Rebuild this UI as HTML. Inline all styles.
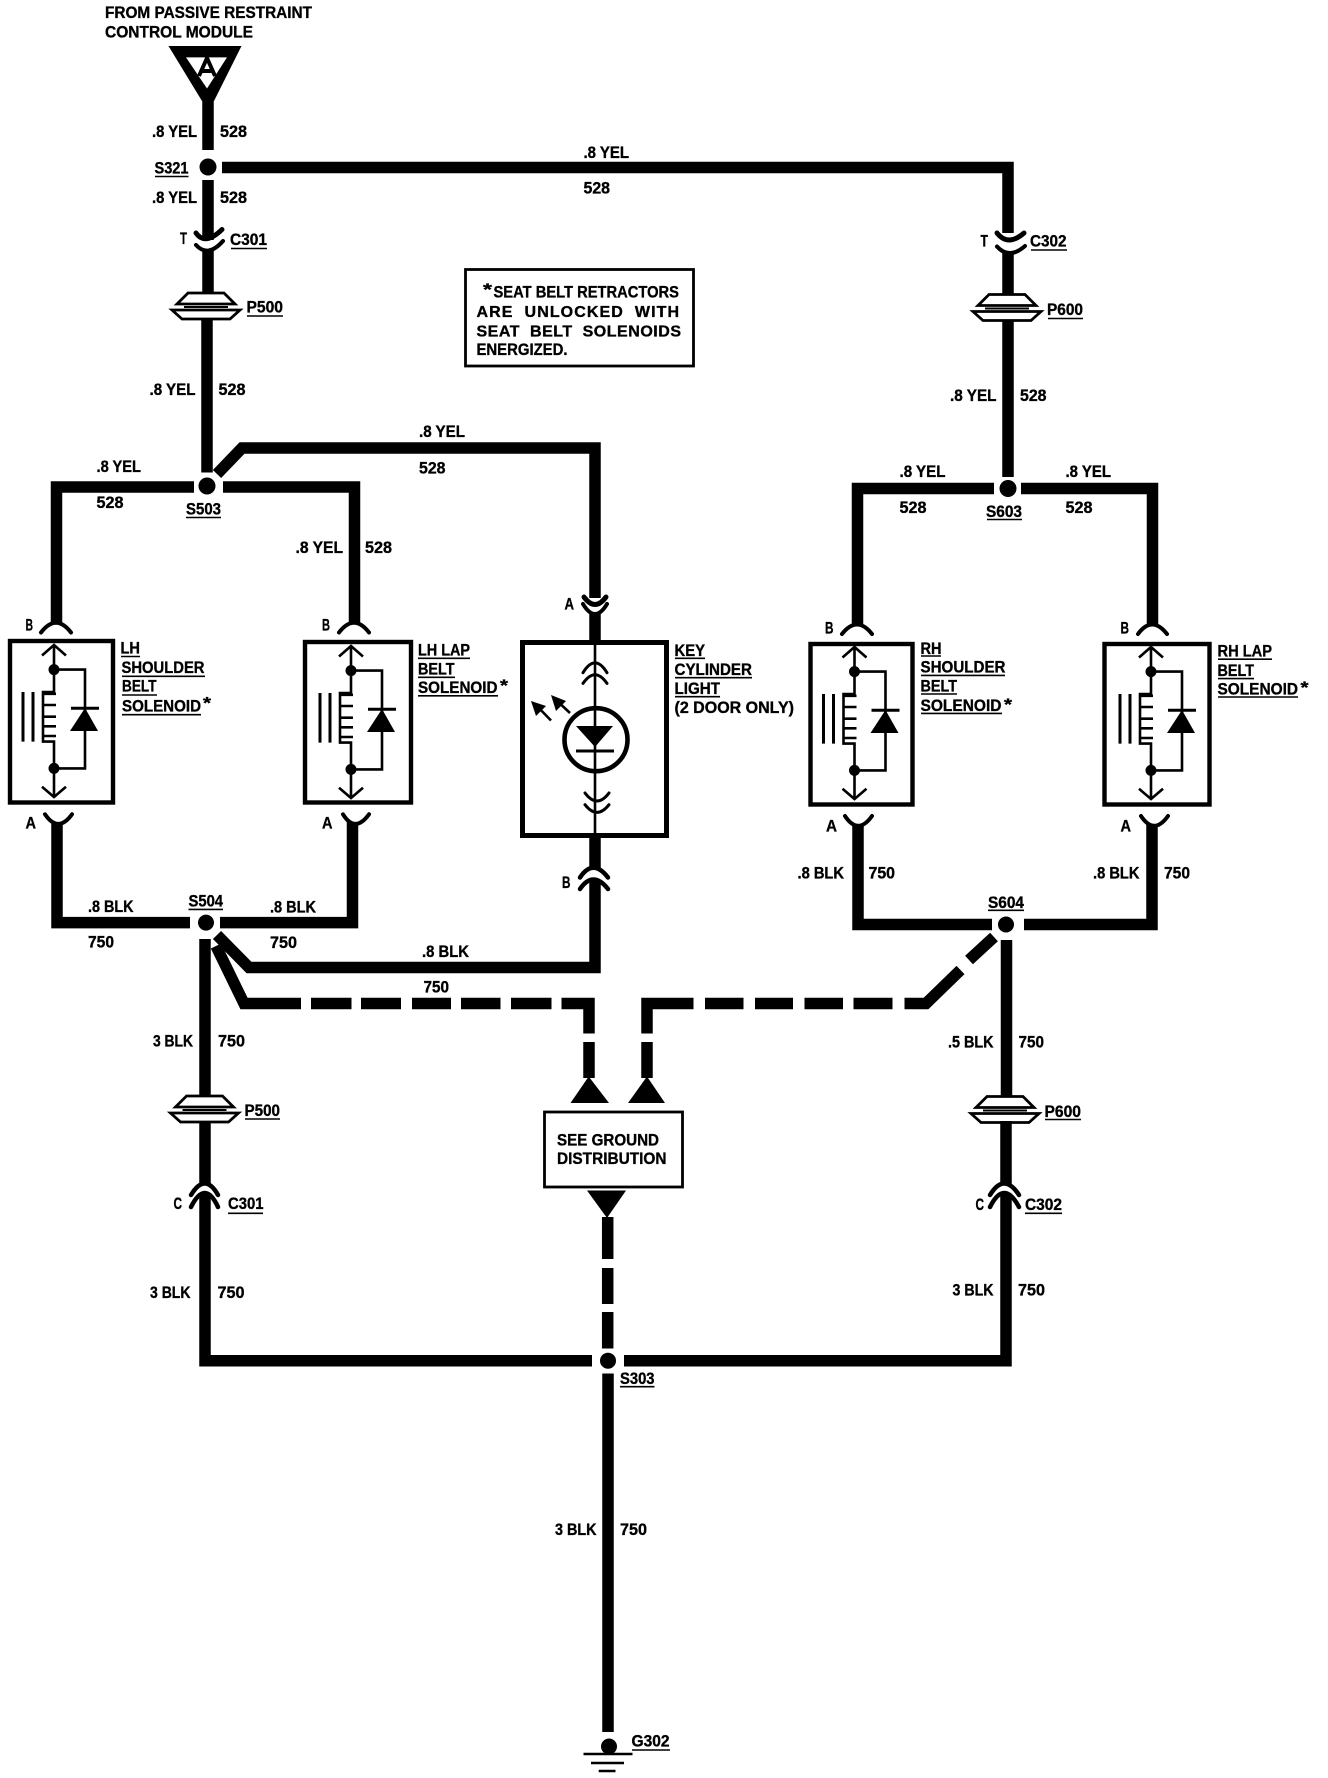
<!DOCTYPE html>
<html><head><meta charset="utf-8"><style>
html,body{margin:0;padding:0;background:#fff}
svg{display:block}
text{font-family:"Liberation Sans",sans-serif;font-weight:bold;font-size:17px;fill:#000;stroke:#000;stroke-width:.35;white-space:pre}
.w{fill:none;stroke:#000;stroke-width:11.5;stroke-linejoin:miter}
.t{fill:none;stroke:#000;stroke-width:2.6}
.c{fill:none;stroke:#000;stroke-width:4;stroke-linecap:round}
.u{stroke:#000;stroke-width:1.6;fill:none}
.b{fill:none;stroke:#000;stroke-width:4.4}
</style></head><body>
<svg width="1328" height="1778" viewBox="0 0 1328 1778" xmlns="http://www.w3.org/2000/svg">
<defs>
<g id="sol">
<path class="t" d="M54 645V669.600M42 655.500L54 645L66 655.500"/>
<circle cx="54" cy="669.600" r="5.500"/>
<path class="t" d="M54 669.600H85V768.400H54M54 669.600V692H43V741.600H54V768.400V797M42 786.800L54 797L66 786.800"/>
<path class="t" d="M43 693.800H56M43 705H56M43 716.700H56M43 726.300H56M43 736H56"/>
<circle cx="54" cy="768.400" r="5.500"/>
<path class="t" d="M23 692V741.600M33 692V741.600" style="stroke-width:3"/>
<path d="M71 706.800H99V709.800H71Z"/>
<path d="M85 708L70 731H98Z"/>
</g>
<g id="plug">
<path class="t" d="M-18 0H18L29 11H-29Z" style="stroke-width:2.8;fill:#fff"/>
<path class="t" d="M-34 17H34L24 26H-24Z" style="stroke-width:2.8;fill:#fff"/>
<path d="M-22 13H22V15H-22Z"/>
</g>
</defs>
<rect width="1328" height="1778" fill="#fff"/>

<!-- source triangle -->
<path d="M168.500 46H241.500L214 101H202Z"/>
<path d="M186 57.400H227L207 88.500Z" fill="#fff"/>
<path d="M199 76L207 58L215 76M202 71H212" style="fill:none;stroke:#000;stroke-width:4"/>

<!-- top wires -->
<path class="w" d="M208 100V150"/>
<circle cx="208" cy="167" r="8.500"/>
<path class="w" d="M222 167.500H1008V233"/>
<path class="w" d="M208 180V240"/>
<path class="w" d="M208 251V294"/>
<path class="w" d="M207 318V472.500"/>
<path class="c" d="M196 233Q205 246 222 229.500" style="stroke-width:5"/>
<path class="c" d="M196 245Q208 258 223 241"/>
<use href="#plug" x="206" y="293"/>

<path class="w" d="M1008 253V295"/>
<path class="w" d="M1008 320V477"/>
<path class="c" d="M997 233Q1008 247 1024 233" style="stroke-width:5"/>
<path class="c" d="M997 246.500Q1009 260 1025 246"/>
<use href="#plug" x="1007" y="294.500"/>

<!-- note box -->
<rect x="465.500" y="269.500" width="228" height="96.500" style="fill:none;stroke:#000;stroke-width:2.800"/>

<!-- S503 -->
<circle cx="207" cy="486" r="8.500"/>
<path class="w" d="M194 487H56.500V623"/>
<path class="w" d="M223 487H354.500V623"/>
<path class="w" d="M217 474L242 448H595V598"/>
<!-- key wire connector -->
<path class="c" d="M584 597Q595 612 606 597" style="stroke-width:5"/>
<path class="c" d="M583 604Q595 624 607 604"/>
<path class="w" d="M595 614V643"/>

<!-- S603 -->
<circle cx="1008" cy="488.500" r="8.500"/>
<path class="w" d="M994 488.500H857.500V624"/>
<path class="w" d="M1021 488.500H1152.500V624"/>

<!-- B connectors -->
<path class="c" d="M41 632.500Q56 613 71 632.500"/>
<path class="c" d="M339 632.500Q354 613 369 632.500"/>
<path class="c" d="M842 634Q857 615 872 634"/>
<path class="c" d="M1138 634Q1152 615 1167 634"/>

<!-- solenoids -->
<rect x="10" y="641" width="103" height="161.500" class="b"/>
<use href="#sol"/>
<rect x="305" y="642" width="106" height="160.500" class="b"/>
<use href="#sol" x="297" y="1"/>
<rect x="810.500" y="644" width="102" height="160.500" class="b"/>
<use href="#sol" x="800.500" y="2"/>
<rect x="1104.500" y="644" width="105" height="160.500" class="b"/>
<use href="#sol" x="1097" y="2"/>

<!-- key box -->
<rect x="522.500" y="642.500" width="144" height="193" class="b" style="stroke-width:5"/>
<path class="t" d="M595 643V836"/>
<path class="c" d="M583 672.700Q595 653 607 672.700" style="stroke-width:3"/>
<path class="c" d="M583 683.400Q595 666 607 683.400" style="stroke-width:3"/>
<circle cx="596" cy="739.700" r="31.500" style="fill:none;stroke:#000;stroke-width:4.600"/>
<path d="M576 726H613L595 747Z"/>
<path d="M576 749.500H614V752.500H576Z"/>
<path class="c" d="M585 793Q597 809 609 793" style="stroke-width:3"/>
<path class="c" d="M585 804.700Q597 820 609 804.700" style="stroke-width:3"/>
<path class="t" d="M551 720.500L535 704M570 713L555 699"/>
<path d="M531 701L546 706L536 716Z"/>
<path d="M551 695L566 701L556 711Z"/>
<path class="w" d="M595 835V868"/>
<path class="c" d="M580 877.500Q593 858 608 877.500" style="stroke-width:4.500"/>
<path class="c" d="M580 889Q593 870 608 889" style="stroke-width:4.500"/>
<path class="w" d="M595 880V967.500H249L217 935"/>

<!-- A connectors, lower wires -->
<path class="c" d="M45 814.300Q58 833.500 72 814.300"/>
<path class="c" d="M343 814.300Q355 833.500 369 814.300"/>
<path class="w" d="M57 822V922.600H190"/>
<path class="w" d="M352.500 822V922.600H220"/>
<circle cx="206" cy="922.600" r="8"/>
<path class="c" d="M845 816Q858 835.600 872 816"/>
<path class="c" d="M1141 816Q1154 835.600 1168 816"/>
<path class="w" d="M858 824V924.500H992"/>
<path class="w" d="M1152 824V924.500H1024"/>
<circle cx="1006" cy="924.500" r="8"/>

<!-- S504 verticals -->
<path class="w" d="M205 939V1096"/>
<use href="#plug" x="204.500" y="1096"/>
<path class="w" d="M205 1121V1184"/>
<path class="w" d="M205 1195V1360.700H592"/>
<path class="c" d="M191 1195Q205 1172 218 1195" style="stroke-width:4.500"/>
<path class="c" d="M191 1207Q205 1179 218 1207" style="stroke-width:4.500"/>

<path class="w" d="M1006.500 940V1097"/>
<use href="#plug" x="1005" y="1096.500"/>
<path class="w" d="M1006 1121V1184"/>
<path class="w" d="M1006 1195V1360.700H624"/>
<path class="c" d="M990 1195Q1004 1172 1019 1195" style="stroke-width:4.500"/>
<path class="c" d="M990 1207Q1004 1179 1019 1207" style="stroke-width:4.500"/>

<!-- dashed left -->
<path class="w" d="M216 946L244 1003.500H301"/>
<path class="w" d="M311 1003.500H351.500M361 1003.500H401M412 1003.500H451M461 1003.500H500.500M511 1003.500H551.500"/>
<path class="w" d="M561.500 1003.500H589V1033.500"/>
<path class="w" d="M589 1042V1078"/>
<path d="M588.700 1076.500L570.500 1103H609Z"/>
<!-- dashed right -->
<path class="w" d="M647 1033.500V1003.500H693.500"/>
<path class="w" d="M705 1003.500H743.500M755 1003.500H793M804.500 1003.500H843M853.500 1003.500H892.500"/>
<path class="w" d="M904.500 1003.500H926L960.500 970"/>
<path class="w" d="M969 960L994 937"/>
<path class="w" d="M647 1042V1078"/>
<path d="M647 1076.500L628 1103H665Z"/>

<!-- ground distribution box -->
<rect x="544.500" y="1112" width="138" height="75" style="fill:none;stroke:#000;stroke-width:2.800"/>
<path d="M587 1190.500H626L607 1218Z"/>
<path class="w" d="M607.700 1217V1259M607.700 1268V1304M607.700 1312V1348.500"/>
<circle cx="608" cy="1360.700" r="8"/>
<path class="w" d="M608 1373.500V1732"/>
<circle cx="609" cy="1746.500" r="8"/>
<path class="u" style="stroke-width:2.600" d="M583.500 1754H632.500M591 1763H624M598.700 1771H615.500"/>

<!-- labels -->
<text x="105" y="18" textLength="207" lengthAdjust="spacingAndGlyphs">FROM PASSIVE RESTRAINT</text>
<text x="105" y="37.500" textLength="148" lengthAdjust="spacingAndGlyphs">CONTROL MODULE</text>
<text x="152" y="137" textLength="45" lengthAdjust="spacingAndGlyphs">.8 YEL</text>
<text x="220" y="137" textLength="27" lengthAdjust="spacingAndGlyphs">528</text>
<text x="154.500" y="173.500" textLength="34" lengthAdjust="spacingAndGlyphs">S321</text>
<text x="152" y="203" textLength="45" lengthAdjust="spacingAndGlyphs">.8 YEL</text>
<text x="220" y="203" textLength="27" lengthAdjust="spacingAndGlyphs">528</text>
<text x="180" y="244" textLength="7" lengthAdjust="spacingAndGlyphs">T</text>
<text x="230" y="245" textLength="37" lengthAdjust="spacingAndGlyphs">C301</text>
<text x="246.500" y="312.500" textLength="36.500" lengthAdjust="spacingAndGlyphs">P500</text>
<text x="149.500" y="395" textLength="46" lengthAdjust="spacingAndGlyphs">.8 YEL</text>
<text x="218.500" y="395" textLength="27" lengthAdjust="spacingAndGlyphs">528</text>
<text x="583.500" y="158" textLength="45.500" lengthAdjust="spacingAndGlyphs">.8 YEL</text>
<text x="583.500" y="193.500" textLength="26.500" lengthAdjust="spacingAndGlyphs">528</text>
<text x="419" y="437" textLength="46" lengthAdjust="spacingAndGlyphs">.8 YEL</text>
<text x="419" y="473.500" textLength="26.500" lengthAdjust="spacingAndGlyphs">528</text>
<text x="96.500" y="472" textLength="44.500" lengthAdjust="spacingAndGlyphs">.8 YEL</text>
<text x="96.500" y="508" textLength="27" lengthAdjust="spacingAndGlyphs">528</text>
<text x="186" y="514.500" textLength="35" lengthAdjust="spacingAndGlyphs">S503</text>
<text x="295.500" y="553" textLength="47.500" lengthAdjust="spacingAndGlyphs">.8 YEL</text>
<text x="365" y="553" textLength="27" lengthAdjust="spacingAndGlyphs">528</text>

<text x="980.500" y="246.500" textLength="7.500" lengthAdjust="spacingAndGlyphs">T</text>
<text x="1030" y="246.500" textLength="36.500" lengthAdjust="spacingAndGlyphs">C302</text>
<text x="1047" y="315" textLength="36" lengthAdjust="spacingAndGlyphs">P600</text>
<text x="950" y="401" textLength="46.500" lengthAdjust="spacingAndGlyphs">.8 YEL</text>
<text x="1020" y="401" textLength="26.500" lengthAdjust="spacingAndGlyphs">528</text>
<text x="899.500" y="477" textLength="46" lengthAdjust="spacingAndGlyphs">.8 YEL</text>
<text x="1065.500" y="477" textLength="45.500" lengthAdjust="spacingAndGlyphs">.8 YEL</text>
<text x="899.500" y="513" textLength="27" lengthAdjust="spacingAndGlyphs">528</text>
<text x="1065.500" y="513" textLength="27" lengthAdjust="spacingAndGlyphs">528</text>
<text x="986" y="517" textLength="36" lengthAdjust="spacingAndGlyphs">S603</text>

<text x="493.500" y="297.700" textLength="185.500" lengthAdjust="spacingAndGlyphs">SEAT BELT RETRACTORS</text>
<text x="483" y="295" textLength="9" lengthAdjust="spacingAndGlyphs">*</text>
<text x="476.500" y="317" textLength="202.500" lengthAdjust="spacing" style="font-size:16px">ARE  UNLOCKED  WITH</text>
<text x="476.500" y="336.700" textLength="204.500" lengthAdjust="spacing" style="font-size:16px">SEAT  BELT  SOLENOIDS</text>
<text x="476.500" y="355" textLength="91" lengthAdjust="spacingAndGlyphs">ENERGIZED.</text>

<text x="25.500" y="630.700" textLength="7.500" lengthAdjust="spacingAndGlyphs">B</text>
<text x="322" y="630.700" textLength="8" lengthAdjust="spacingAndGlyphs">B</text>
<text x="25.500" y="828.600" textLength="10.500" lengthAdjust="spacingAndGlyphs">A</text>
<text x="322" y="828.600" textLength="10.500" lengthAdjust="spacingAndGlyphs">A</text>
<text x="120.500" y="653.300" textLength="19.500" lengthAdjust="spacingAndGlyphs">LH</text>
<text x="121.500" y="673.200" textLength="83" lengthAdjust="spacingAndGlyphs">SHOULDER</text>
<text x="122" y="691.700" textLength="34.500" lengthAdjust="spacingAndGlyphs">BELT</text>
<text x="122" y="711.600" textLength="79" lengthAdjust="spacingAndGlyphs">SOLENOID</text>
<text x="203" y="708.700" textLength="8" lengthAdjust="spacingAndGlyphs">*</text>
<text x="418" y="655.600" textLength="52" lengthAdjust="spacingAndGlyphs">LH LAP</text>
<text x="418" y="674.500" textLength="36.500" lengthAdjust="spacingAndGlyphs">BELT</text>
<text x="418" y="693" textLength="79.500" lengthAdjust="spacingAndGlyphs">SOLENOID</text>
<text x="500" y="691" textLength="8" lengthAdjust="spacingAndGlyphs">*</text>
<text x="564.500" y="609.500" textLength="9.500" lengthAdjust="spacingAndGlyphs">A</text>
<text x="562" y="887.800" textLength="8.500" lengthAdjust="spacingAndGlyphs">B</text>
<text x="88" y="912" textLength="45.500" lengthAdjust="spacingAndGlyphs">.8 BLK</text>
<text x="88" y="947.500" textLength="26" lengthAdjust="spacingAndGlyphs">750</text>
<text x="188.500" y="906.700" textLength="34.500" lengthAdjust="spacingAndGlyphs">S504</text>
<text x="270" y="912.500" textLength="46" lengthAdjust="spacingAndGlyphs">.8 BLK</text>
<text x="270" y="948" textLength="27" lengthAdjust="spacingAndGlyphs">750</text>
<text x="422" y="957" textLength="47" lengthAdjust="spacingAndGlyphs">.8 BLK</text>
<text x="423.500" y="992.700" textLength="25.500" lengthAdjust="spacingAndGlyphs">750</text>
<text x="153" y="1046.300" textLength="40" lengthAdjust="spacingAndGlyphs">3 BLK</text>
<text x="218" y="1046.300" textLength="27" lengthAdjust="spacingAndGlyphs">750</text>
<text x="244.500" y="1116" textLength="35.500" lengthAdjust="spacingAndGlyphs">P500</text>

<text x="674.500" y="656" textLength="30.500" lengthAdjust="spacingAndGlyphs">KEY</text>
<text x="674.500" y="675" textLength="77.500" lengthAdjust="spacingAndGlyphs">CYLINDER</text>
<text x="674.500" y="694" textLength="45.500" lengthAdjust="spacingAndGlyphs">LIGHT</text>
<text x="674.500" y="713" textLength="119.500" lengthAdjust="spacingAndGlyphs">(2 DOOR ONLY)</text>
<text x="920.500" y="653.800" textLength="21" lengthAdjust="spacingAndGlyphs">RH</text>
<text x="920.500" y="672.700" textLength="85" lengthAdjust="spacingAndGlyphs">SHOULDER</text>
<text x="920.500" y="691.700" textLength="36.500" lengthAdjust="spacingAndGlyphs">BELT</text>
<text x="920.500" y="711" textLength="81" lengthAdjust="spacingAndGlyphs">SOLENOID</text>
<text x="1004" y="710" textLength="8" lengthAdjust="spacingAndGlyphs">*</text>
<text x="1217.500" y="656.500" textLength="54.500" lengthAdjust="spacingAndGlyphs">RH LAP</text>
<text x="1217.500" y="675.900" textLength="36.500" lengthAdjust="spacingAndGlyphs">BELT</text>
<text x="1217.500" y="694.400" textLength="80.500" lengthAdjust="spacingAndGlyphs">SOLENOID</text>
<text x="1300.500" y="693" textLength="8" lengthAdjust="spacingAndGlyphs">*</text>
<text x="825" y="633.400" textLength="8.500" lengthAdjust="spacingAndGlyphs">B</text>
<text x="1120.500" y="633.400" textLength="8.500" lengthAdjust="spacingAndGlyphs">B</text>
<text x="826" y="831.300" textLength="11" lengthAdjust="spacingAndGlyphs">A</text>
<text x="1120.500" y="831.300" textLength="10.500" lengthAdjust="spacingAndGlyphs">A</text>
<text x="797.500" y="878.300" textLength="46.500" lengthAdjust="spacingAndGlyphs">.8 BLK</text>
<text x="868.500" y="878.300" textLength="26.500" lengthAdjust="spacingAndGlyphs">750</text>
<text x="1093" y="878.300" textLength="46.500" lengthAdjust="spacingAndGlyphs">.8 BLK</text>
<text x="1164" y="878.300" textLength="26" lengthAdjust="spacingAndGlyphs">750</text>
<text x="988" y="908" textLength="36" lengthAdjust="spacingAndGlyphs">S604</text>
<text x="948" y="1047.700" textLength="45.500" lengthAdjust="spacingAndGlyphs">.5 BLK</text>
<text x="1018.500" y="1047.700" textLength="25.500" lengthAdjust="spacingAndGlyphs">750</text>
<text x="1044.500" y="1116.800" textLength="36.500" lengthAdjust="spacingAndGlyphs">P600</text>

<text x="557" y="1145.400" textLength="102" lengthAdjust="spacingAndGlyphs">SEE GROUND</text>
<text x="557" y="1164" textLength="109.500" lengthAdjust="spacingAndGlyphs">DISTRIBUTION</text>

<text x="173.500" y="1209" textLength="8.500" lengthAdjust="spacingAndGlyphs">C</text>
<text x="228" y="1209" textLength="35.500" lengthAdjust="spacingAndGlyphs">C301</text>
<text x="150" y="1298" textLength="40.500" lengthAdjust="spacingAndGlyphs">3 BLK</text>
<text x="217.500" y="1298" textLength="27" lengthAdjust="spacingAndGlyphs">750</text>
<text x="975.500" y="1210" textLength="8.500" lengthAdjust="spacingAndGlyphs">C</text>
<text x="1025" y="1210" textLength="37" lengthAdjust="spacingAndGlyphs">C302</text>
<text x="952.500" y="1295.400" textLength="41" lengthAdjust="spacingAndGlyphs">3 BLK</text>
<text x="1018" y="1295.400" textLength="27" lengthAdjust="spacingAndGlyphs">750</text>
<text x="620" y="1384" textLength="34.500" lengthAdjust="spacingAndGlyphs">S303</text>
<text x="555" y="1535" textLength="41.500" lengthAdjust="spacingAndGlyphs">3 BLK</text>
<text x="620" y="1535" textLength="27" lengthAdjust="spacingAndGlyphs">750</text>
<text x="631.500" y="1746.400" textLength="38" lengthAdjust="spacingAndGlyphs">G302</text>

<!-- underlines -->
<path class="u" d="M155 176.500H188.500M231 248.500H267M247 316H283M186 517.500H221M1031 250H1067M1048 318.500H1083M987 519.500H1022M121 656.500H140M122 676.300H205M122 695H157M122 714.700H201M418 658.300H470M418 677.300H455M418 695.800H498M675 658.300H705M675 677.700H752M675 696.700H720M921 656H941M921 675.400H1005M921 694H957M921 713.400H1002M1218 659.200H1272M1218 678.600H1254M1218 697H1298M188.500 909.400H223M988 910.300H1024M245 1119H280M1045 1119.500H1081M228 1213.300H263M1025 1213.300H1062M620 1386.700H654.500M632 1750H670"/>
</svg>
</body></html>
